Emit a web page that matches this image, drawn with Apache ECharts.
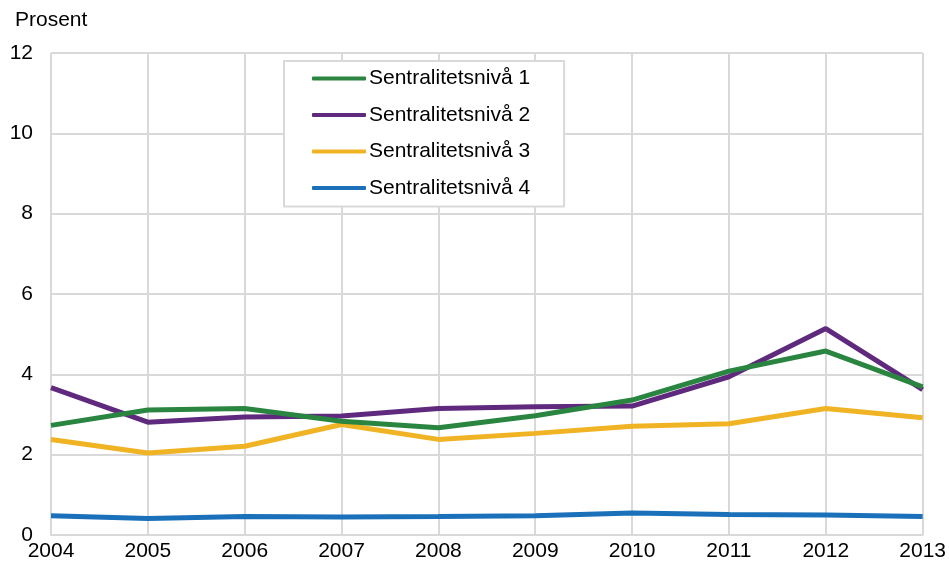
<!DOCTYPE html>
<html>
<head>
<meta charset="utf-8">
<script src="https://cdn.jsdelivr.net/npm/echarts@6/dist/echarts.min.js"></script>
<style>
  html, body { margin: 0; padding: 0; background: #fff; }
  #chart { width: 949px; height: 562px; }
</style>
</head>
<body>
<div id="chart"></div>
<script>
// Andel (prosent) per sentralitetsnivå, 2004–2013
const years = ['2004', '2005', '2006', '2007', '2008', '2009', '2010', '2011', '2012', '2013'];
const niva1 = [2.73, 3.11, 3.15, 2.83, 2.67, 2.97, 3.36, 4.08, 4.58, 3.69];
const niva2 = [3.67, 2.81, 2.94, 2.96, 3.15, 3.19, 3.21, 3.94, 5.14, 3.62];
const niva3 = [2.38, 2.04, 2.21, 2.75, 2.38, 2.53, 2.71, 2.77, 3.15, 2.92];
const niva4 = [0.48, 0.41, 0.46, 0.45, 0.46, 0.48, 0.55, 0.51, 0.50, 0.46];
const seriesNames = ['Sentralitetsnivå 1', 'Sentralitetsnivå 2', 'Sentralitetsnivå 3', 'Sentralitetsnivå 4'];
const seriesColors = ['#2a8540', '#5f2a7e', '#f0b323', '#1a70b9'];
const yTicks = { min: 0, max: 12, interval: 2 };

const font = 'Liberation Sans, Arial, sans-serif';
const gridColor = '#d9d9d9';
const fontSize = 21;

const chart = echarts.init(document.getElementById('chart'), null, { renderer: 'canvas' });

const valuesBySeries = [niva1, niva2, niva3, niva4];

chart.setOption({
  animation: false,
  backgroundColor: '#ffffff',
  textStyle: { fontFamily: font },
  grid: { left: 51, right: 23, top: 53, bottom: 27, containLabel: false },
  graphic: [{
    type: 'text',
    left: 15,
    top: 10,
    style: { text: 'Prosent', font: fontSize + 'px ' + font, fill: '#000' }
  }],
  legend: {
    orient: 'vertical',
    left: 284,
    top: 61,
    padding: [7, 34, 8, 28],
    itemGap: 15.5,
    itemWidth: 54,
    itemHeight: 4,
    borderColor: gridColor,
    borderWidth: 2,
    backgroundColor: '#fff',
    icon: 'roundRect',
    textStyle: { fontSize: fontSize, color: '#000', fontFamily: font, padding: [0, 0, 0, -2], lineHeight: 21 },
    data: seriesNames
  },
  xAxis: {
    type: 'category',
    data: years,
    boundaryGap: false,
    axisLine: { lineStyle: { color: gridColor, width: 2 } },
    axisTick: { show: false },
    axisLabel: { fontSize: fontSize, color: '#000', margin: 6, fontFamily: font, showMaxLabel: true, showMinLabel: true },
    splitLine: { show: true, lineStyle: { color: gridColor, width: 2 } }
  },
  yAxis: {
    type: 'value',
    min: yTicks.min,
    max: yTicks.max,
    interval: yTicks.interval,
    axisLine: { show: false },
    axisTick: { show: false },
    axisLabel: { fontSize: fontSize, color: '#000', margin: 18, fontFamily: font },
    splitLine: { show: true, lineStyle: { color: gridColor, width: 2 } }
  },
  series: seriesNames.map((name, i) => ({
    name: name,
    type: 'line',
    data: valuesBySeries[i],
    symbol: 'none',
    color: seriesColors[i],
    lineStyle: { width: 5, color: seriesColors[i] },
    z: 10 - i
  }))
});
</script>
</body>
</html>
